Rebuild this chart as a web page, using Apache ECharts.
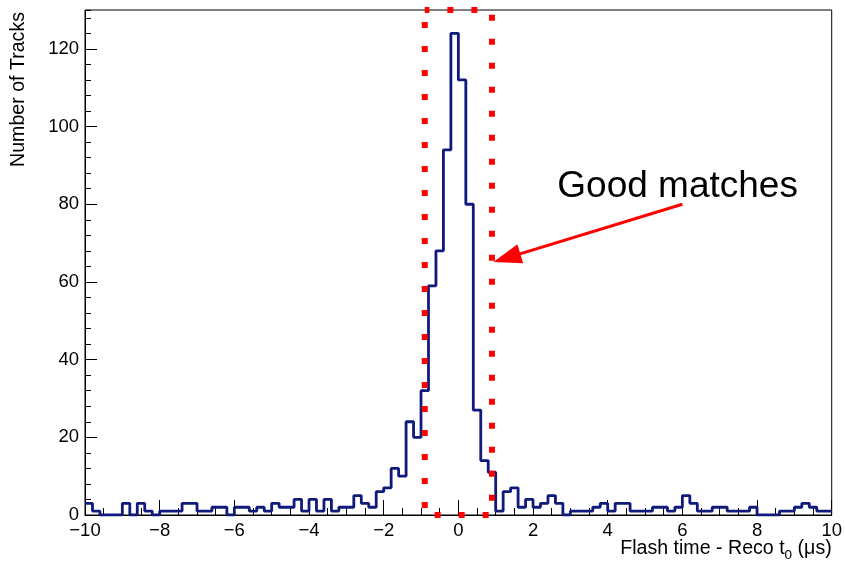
<!DOCTYPE html>
<html><head><meta charset="utf-8">
<script src="https://cdn.jsdelivr.net/npm/echarts@6/dist/echarts.min.js"></script>
<style>html,body{margin:0;padding:0;background:#fff}#c{width:845px;height:561px}</style>
</head><body><div id="c"></div>
<script>
// ---- data ----
const binStart = -10;
const binWidth = 0.2;
const trackCounts = [
  3,1,0,0,0,3,0,3,1,0,
  1,1,1,3,3,1,1,2,2,0,
  2,2,1,2,1,3,2,2,4,1,
  4,1,4,1,2,2,5,3,2,6,
  7,12,10,24,20,32,59,68,94,124,
  112,80,27,14,11,1,6,7,2,4,
  2,3,5,3,0,1,1,1,2,3,
  1,3,3,1,1,1,2,2,1,2,
  5,3,1,1,2,2,1,1,1,2,
  0,0,0,1,1,2,3,2,1,1
];
const xRange = [-10, 10];
const xMajorStep = 2;
const yRange = [0, 130];
const yMajorStep = 20;
const yMinorStep = 4;
const windowEdges = [-0.9, 0.9];          // red dotted "good match" window
const arrowFrom = [6.0, 80.0];
const arrowTo = [1.3, 66.2];
const labelAnchor = [2.65, 84.5];
const labelText = 'Good matches';
const yTitle = 'Number of Tracks';

// ---- chart ----
const FONT = '"Liberation Sans", Arial, Helvetica, sans-serif';
const chart = echarts.init(document.getElementById('c'), null, {renderer: 'canvas'});

const histData = trackCounts.map((c, i) => [+(binStart + i * binWidth).toFixed(2), c]);
histData.push([+(binStart + trackCounts.length * binWidth).toFixed(2), trackCounts[trackCounts.length - 1]]);

function dotted(offset) {
  return {color: '#ff0000', width: 6, type: [6, 18], dashOffset: offset, cap: 'butt'};
}
function edge(p0, p1, offset, extra) {
  return Object.assign({
    type: 'line', data: [p0, p1], symbol: 'none', clip: false, silent: true,
    z: 5, animation: false, lineStyle: dotted(offset)
  }, extra || {});
}

const option = {
  animation: false,
  backgroundColor: '#fff',
  grid: {left: 85, right: 13, top: 10, bottom: 46, show: true, borderColor: '#000', borderWidth: 1},
  xAxis: {
    type: 'value', min: xRange[0], max: xRange[1], interval: xMajorStep,
    axisLine: {onZero: false, lineStyle: {color: '#000', width: 1}},
    axisTick: {inside: true, length: 15, lineStyle: {color: '#000', width: 1}},
    minorTick: {show: true, splitNumber: 4, length: 7, lineStyle: {color: '#000', width: 1}},
    splitLine: {show: false}, minorSplitLine: {show: false},
    axisLabel: {fontFamily: FONT, fontSize: 18.5, color: '#000', margin: 6,
      formatter: v => v < 0 ? '\u2212' + (-v) : String(v)}
  },
  yAxis: [{
    type: 'value', min: yRange[0], max: yRange[1], interval: yMajorStep,
    axisLine: {show: true, onZero: false, lineStyle: {color: '#000', width: 1}},
    axisTick: {inside: true, length: 12, lineStyle: {color: '#000', width: 1}},
    splitLine: {show: false},
    axisLabel: {fontFamily: FONT, fontSize: 18.5, color: '#000', margin: 6, showMaxLabel: false}
  }, {
    type: 'value', position: 'left', min: yRange[0], max: yRange[1], interval: yMinorStep,
    axisLine: {show: false, onZero: false},
    axisTick: {show: true, inside: true, length: 6, lineStyle: {color: '#000', width: 1}},
    splitLine: {show: false}, axisLabel: {show: false}
  }],
  series: [
    {
      type: 'line', step: 'end', data: histData, symbol: 'none', silent: true, z: 3,
      lineStyle: {color: '#0f1a7a', width: 2.8}
    },
    edge([windowEdges[0], yRange[0]], [windowEdges[0], yRange[1]], 17),
    edge([windowEdges[1], yRange[1]], [windowEdges[1], yRange[0]], 19.3),
    edge([windowEdges[0], yRange[0]], [windowEdges[1], yRange[0]], 14.1),
    edge([windowEdges[0], yRange[1]], [windowEdges[1], yRange[1]], 1.4, {
      markLine: {
        silent: true, animation: false, label: {show: false},
        lineStyle: {color: '#ff0000', width: 3, type: 'solid'},
        emphasis: {disabled: true},
        data: [[{coord: arrowFrom, symbol: 'none'},
                {coord: arrowTo, symbol: 'triangle', symbolSize: [20, 28]}]]
      }
    })
  ]
};
chart.setOption(option);

// ---- text annotations ----
const ctx = document.createElement('canvas').getContext('2d');
function tw(t, size) { ctx.font = size + 'px ' + FONT; return ctx.measureText(t).width; }
const frameBR = chart.convertToPixel({gridIndex: 0}, [xRange[1], yRange[0]]);
const frameTL = chart.convertToPixel({gridIndex: 0}, [xRange[0], yRange[1]]);
const lab = chart.convertToPixel({gridIndex: 0}, labelAnchor);
const tSize = 19.6, subSize = 13.5;
const rightX = frameBR[0];
const wUnit = tw(' (\u03bcs)', tSize);
const wSub = tw('0', subSize);
const titleY = frameBR[1] + 34;

chart.setOption({
  graphic: [
    {type: 'text', silent: true, x: 19, y: frameTL[1] + 2, rotation: Math.PI / 2,
      style: {text: yTitle, fontFamily: FONT, fontSize: tSize, fill: '#000', align: 'right', verticalAlign: 'middle'}},
    {type: 'text', silent: true, x: rightX, y: titleY,
      style: {text: ' (\u03bcs)', fontFamily: FONT, fontSize: tSize, fill: '#000', align: 'right', verticalAlign: 'middle'}},
    {type: 'text', silent: true, x: rightX - wUnit, y: titleY + 6,
      style: {text: '0', fontFamily: FONT, fontSize: subSize, fill: '#000', align: 'right', verticalAlign: 'middle'}},
    {type: 'text', silent: true, x: rightX - wUnit - wSub, y: titleY,
      style: {text: 'Flash time - Reco t', fontFamily: FONT, fontSize: tSize, fill: '#000', align: 'right', verticalAlign: 'middle'}},
    {type: 'text', silent: true, x: lab[0], y: lab[1],
      style: {text: labelText, fontFamily: FONT, fontSize: 37, fill: '#000', align: 'left', verticalAlign: 'middle'}}
  ]
});
</script>
</body></html>
